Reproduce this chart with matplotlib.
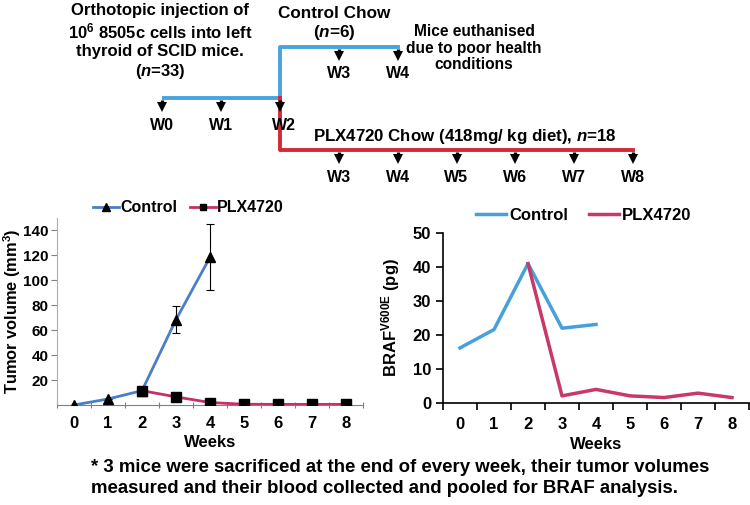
import numpy as np
import matplotlib
matplotlib.use('Agg')
import matplotlib.pyplot as plt

plt.rcParams['font.family'] = ['Liberation Sans', 'DejaVu Sans']
plt.rcParams['font.weight'] = 'bold'
plt.rcParams['axes.labelweight'] = 'bold'
plt.rcParams['mathtext.fontset'] = 'custom'
plt.rcParams['mathtext.rm'] = 'Liberation Sans:bold'
plt.rcParams['mathtext.bf'] = 'Liberation Sans:bold'
plt.rcParams['mathtext.it'] = 'Liberation Sans:italic:bold'

NARROW = ['Liberation Sans Narrow', 'Liberation Sans']

# ==================== 数据 ====================
weeks = np.arange(9)
tumor_ctrl_weeks = [0, 1, 2, 3, 4]
tumor_ctrl = [0, 4.8, 11.5, 68.5, 118.5]
tumor_ctrl_err = [0, 0, 0, 11, 26.5]
tumor_plx_weeks = [2, 3, 4, 5, 6, 7, 8]
tumor_plx = [11.5, 6.5, 2, 0.6, 0.5, 0.5, 0.5]

braf_ctrl_weeks = [0, 1, 2, 3, 4]
braf_ctrl = [16.2, 21.6, 41, 22, 23.1]
braf_plx_weeks = [2, 3, 4, 5, 6, 7, 8]
braf_plx = [41, 2.1, 4.0, 2.1, 1.6, 2.9, 1.6]

# 时间线
base_weeks = [0, 1, 2]
ctrl_chow_weeks = [3, 4]
plx_chow_weeks = [3, 4, 5, 6, 7, 8]

fig = plt.figure(figsize=(7.5, 5.05), dpi=100)

# ==================== 时间线（像素坐标） ====================
ax0 = fig.add_axes([0, 0, 1, 1])
ax0.set_xlim(0, 750)
ax0.set_ylim(505, 0)
ax0.axis('off')

def wx(w):
    return 162 + w * 58.9

blue_t, red_t = '#4aa3df', '#d42a36'
y_base, y_top, y_bot = 98, 47, 150
ax0.plot([wx(0), wx(2)], [y_base, y_base], color=blue_t, lw=2.8, solid_capstyle='butt')
ax0.plot([wx(2), wx(2), wx(4)], [y_base, y_top, y_top], color=blue_t, lw=2.8)
ax0.plot([wx(2), wx(2), wx(8)], [y_base, y_bot, y_bot], color=red_t, lw=2.8)

def arrow(x, y, lab):
    ax0.plot([x, x], [y + 2, y + 8], color='black', lw=2.4, solid_capstyle='butt')
    ax0.plot([x], [y + 9], marker='v', ms=7.5, color='black', mew=0)
    ax0.text(x + (4 if lab == 'W2' else 0), y + 27, lab, ha='center', va='center', fontsize=11.5)

for w in base_weeks:
    arrow(wx(w), y_base, f'W{w}')
for w in ctrl_chow_weeks:
    arrow(wx(w), y_top, f'W{w}')
for w in plx_chow_weeks:
    arrow(wx(w), y_bot, f'W{w}')

ax0.text(160, 42, 'Orthotopic injection of\n10$^{6}$ 8505c cells into left\nthyroid of SCID mice.\n($\\mathit{n}$=33)',
         ha='center', va='center', fontsize=12, linespacing=1.2)
ax0.text(334, 24, 'Control Chow\n($\\mathit{n}$=6)', ha='center', va='center',
         fontsize=12.3, linespacing=1.2)
ax0.text(474, 48, 'Mice euthanised\ndue to poor health\nconditions', ha='center', va='center',
         fontsize=11.2, linespacing=1.15)
ax0.text(465, 137, 'PLX4720 Chow (418mg/ kg diet), $\\mathit{n}$=18', ha='center', va='center',
         fontsize=12.2)

# ==================== 左图：肿瘤体积 ====================
c_blue, c_red = '#4a7ec6', '#c4306a'
ax1 = fig.add_axes([57 / 750, 100 / 505, 306 / 750, 187 / 505])
ax1.plot(tumor_ctrl_weeks, tumor_ctrl, color=c_blue, lw=2, marker='^', ms=7,
         mfc='black', mec='black', label='Control', zorder=3)
ax1.errorbar(tumor_ctrl_weeks, tumor_ctrl, yerr=tumor_ctrl_err, fmt='none',
             ecolor='black', elinewidth=0.8, capsize=3, capthick=0.8, zorder=2)
ax1.plot(tumor_plx_weeks, tumor_plx, color=c_red, lw=2, marker='s', ms=6.5,
         mfc='black', mec='black', label='PLX4720', zorder=4)
ax1.set_xlim(-0.5, 8.5)
ax1.set_ylim(0, 150)
ax1.set_yticks(np.arange(20, 141, 20))
ax1.set_xticks(np.arange(-0.5, 8.6, 1))
ax1.set_xticklabels([])
ax1.set_xticks(weeks, minor=True)
ax1.set_xticklabels([str(w) for w in weeks], minor=True, family=NARROW,
                    fontsize=12, fontweight='bold')
ax1.tick_params(axis='x', which='minor', length=0, pad=8)
ax1.tick_params(axis='x', which='major', length=5, color='#808080', direction='inout')
ax1.tick_params(axis='y', length=4, color='#808080', labelsize=11, pad=2)
for s in ['top', 'right']:
    ax1.spines[s].set_visible(False)
ax1.spines['left'].set_color('#b0b0b0')
ax1.spines['bottom'].set_color('#808080')
ax1.set_ylabel('Tumor volume (mm$^{3}$)', fontsize=11.8)
ax1.yaxis.set_label_coords(-0.112, 0.5)
ax1.set_xlabel('Weeks', family=NARROW, fontsize=12, labelpad=3)
ax1.legend(loc='lower center', bbox_to_anchor=(0.43, 0.98), ncol=2, frameon=False,
           fontsize=11.5, handlelength=1.6, handletextpad=0.1, columnspacing=0.8,
           borderaxespad=0, markerscale=0.75)

# ==================== 右图：BRAF ====================
r_blue, r_red = '#45a0dc', '#c83868'
ax2 = fig.add_axes([443 / 750, 102 / 505, 306 / 750, 170 / 505])
ax2.plot(braf_ctrl_weeks, braf_ctrl, color=r_blue, lw=2.5, label='Control')
ax2.plot(braf_plx_weeks, braf_plx, color=r_red, lw=2.5, label='PLX4720')
ax2.set_xlim(-0.5, 8.5)
ax2.set_ylim(0, 50)
ax2.set_yticks(np.arange(0, 51, 10))
ax2.set_xticks(np.arange(-0.5, 8.6, 1))
ax2.set_xticklabels([])
ax2.set_xticks(weeks, minor=True)
ax2.set_xticklabels([str(w) for w in weeks], minor=True, family=NARROW,
                    fontsize=12, fontweight='bold')
ax2.tick_params(axis='x', which='minor', length=0, pad=10)
ax2.tick_params(axis='x', which='major', length=5, width=1.2)
ax2.tick_params(axis='y', length=5, width=1.2, labelsize=12)
for s in ['top', 'right']:
    ax2.spines[s].set_visible(False)
for s in ['left', 'bottom']:
    ax2.spines[s].set_linewidth(1.2)
ax2.set_ylabel('BRAF$^{\\mathrm{V600E}}$ (pg)', fontsize=12)
ax2.yaxis.set_label_coords(-0.135, 0.5)
ax2.set_xlabel('Weeks', family=NARROW, fontsize=12, labelpad=4)
ax2.legend(loc='lower center', bbox_to_anchor=(0.46, 1.02), ncol=2, frameon=False,
           fontsize=12, handlelength=1.8, handletextpad=0.2, columnspacing=1.2,
           borderaxespad=0)

# ==================== 脚注 ====================
ax0.text(91, 478, '* 3 mice were sacrificed at the end of every week, their tumor volumes\n'
         'measured and their blood collected and pooled for BRAF analysis.',
         ha='left', va='center', family=NARROW, fontsize=13.4, linespacing=1.3)

fig.savefig('out.png', dpi=100)
